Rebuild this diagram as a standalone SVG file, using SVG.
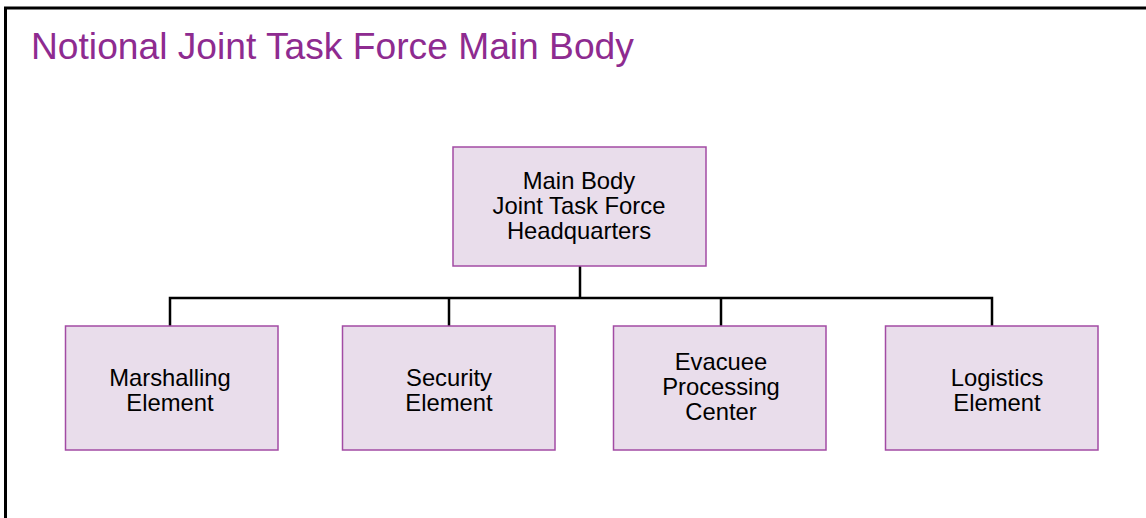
<svg xmlns="http://www.w3.org/2000/svg" width="1146" height="518" viewBox="0 0 1146 518">
<style>
.box{fill:#E9DDEB;stroke:#A24BA4;stroke-width:1.5}
.t{font-family:"Liberation Sans",Arial,sans-serif;font-size:23.8px;fill:#000;text-anchor:middle}
.c{stroke:#000;stroke-width:2.5;fill:none}
</style>
<rect width="1146" height="518" fill="#fff"/>
<path d="M5.5 518 V8 H1146" fill="none" stroke="#000" stroke-width="3"/>
<text x="31" y="59" font-family="'Liberation Sans',Arial,sans-serif" font-size="37.2" fill="#8E2B90">Notional Joint Task Force Main Body</text>
<g id="connectors">
<path class="c" d="M580 266 V298"/>
<path class="c" d="M170 326 V298 H992 V326"/>
<path class="c" d="M449 298 V326"/>
<path class="c" d="M721 298 V326"/>
</g>
<g id="hq">
<rect class="box" x="453" y="147" width="253" height="119"/>
<text class="t" x="579" y="189">Main Body</text>
<text class="t" x="579" y="214">Joint Task Force</text>
<text class="t" x="579" y="239">Headquarters</text>
</g>
<g id="marshalling">
<rect class="box" x="65.5" y="326" width="212.5" height="124"/>
<text class="t" x="170" y="386">Marshalling</text>
<text class="t" x="170" y="411">Element</text>
</g>
<g id="security">
<rect class="box" x="342.5" y="326" width="212.5" height="124"/>
<text class="t" x="449" y="386">Security</text>
<text class="t" x="449" y="411">Element</text>
</g>
<g id="epc">
<rect class="box" x="613.5" y="326" width="212.5" height="124"/>
<text class="t" x="721" y="370">Evacuee</text>
<text class="t" x="721" y="395">Processing</text>
<text class="t" x="721" y="420">Center</text>
</g>
<g id="logistics">
<rect class="box" x="885.5" y="326" width="212.5" height="124"/>
<text class="t" x="997" y="386">Logistics</text>
<text class="t" x="997" y="411">Element</text>
</g>
</svg>
